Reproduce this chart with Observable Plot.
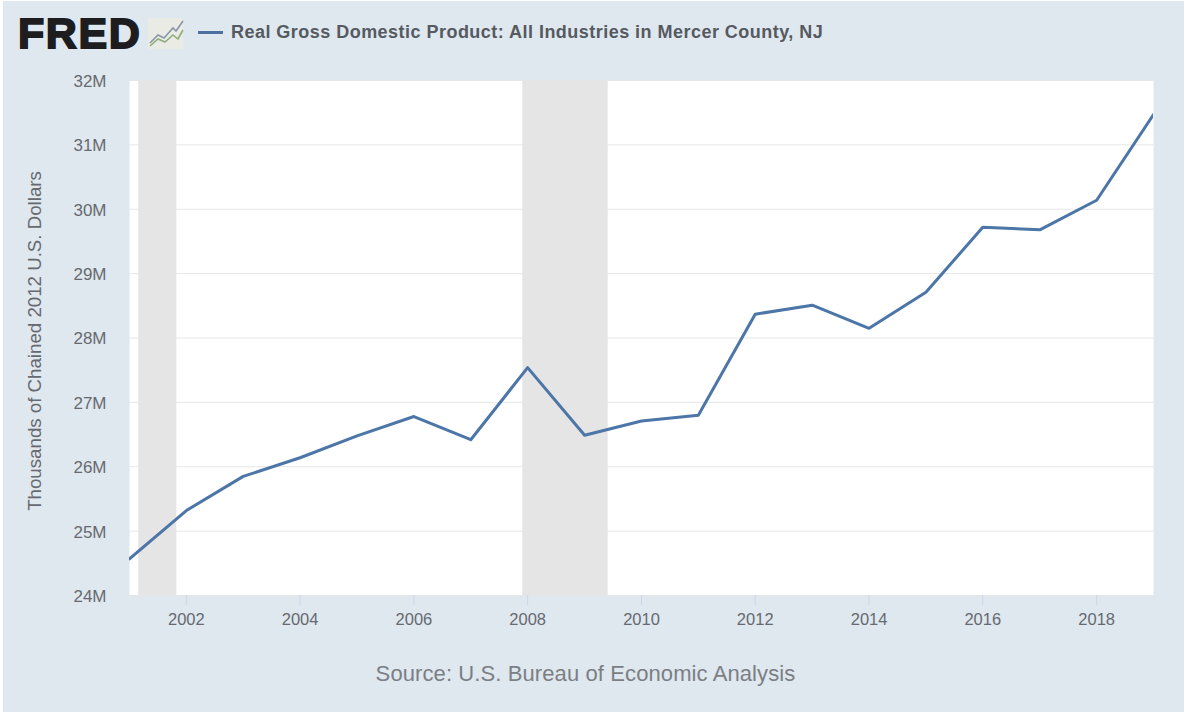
<!DOCTYPE html>
<html><head><meta charset="utf-8">
<script src="https://cdn.jsdelivr.net/npm/d3@7"></script>
<script src="https://cdn.jsdelivr.net/npm/@observablehq/plot@0.6"></script>
<style>
html,body{margin:0;padding:0;background:#fff;overflow:hidden}
#page{position:absolute;left:3px;top:1px;width:1181px;height:711px;background:#dfe7ef;font-family:"Liberation Sans",Arial,sans-serif}
#head{position:absolute;left:0;top:0;width:1181px;height:65px}
#logo{position:absolute;left:15px;top:7px;font:900 43px/50px "Liberation Sans",Arial,sans-serif;letter-spacing:1.6px;color:#1d1d1f;-webkit-text-stroke:1.8px #1d1d1f}
#spark{position:absolute;left:145px;top:17px}
#key{position:absolute;left:195px;top:30px;width:25px;height:3px;background:#4c70a0}
#title{position:absolute;left:228px;top:20px;font:bold 18px/22px "Liberation Sans",Arial,sans-serif;letter-spacing:.47px;color:#555a60;white-space:nowrap}
#chart{position:absolute;left:-3px;top:65px}
#source{position:absolute;left:0;width:1165px;top:660px;text-align:center;font:22px/26px "Liberation Sans",Arial,sans-serif;letter-spacing:.1px;color:#7b7f84}
</style></head><body>
<div id="page">
<div id="head">
<div id="logo">FRED</div>
<svg id="spark" width="36" height="32" viewBox="0 0 36 32"><rect x="0" y="0" width="35" height="31" rx="2" fill="#e9ebe4"/><path d="M2 25L10 17L16 20L25 10L28 13L35 3" fill="none" stroke="#8a96a8" stroke-width="1.6"/><path d="M2 28L10 21L17 24L25 17L30 21L35 12" fill="none" stroke="#8fae7c" stroke-width="1.6"/></svg>
<div id="key"></div>
<div id="title">Real Gross Domestic Product: All Industries in Mercer County, NJ</div>
</div>
<div id="chart"></div>
<div id="source">Source: U.S. Bureau of Economic Analysis</div>
</div>
<script>
const years = [2001,2002,2003,2004,2005,2006,2007,2008,2009,2010,2011,2012,2013,2014,2015,2016,2017,2018,2019];
const gdpMillions = [24.57,25.32,25.85,26.14,26.48,26.78,26.42,27.54,26.49,26.71,26.80,28.37,28.51,28.15,28.71,29.72,29.68,30.14,31.47];
const recessionStart = ["2001-03-01","2007-12-01"];
const recessionEnd = ["2001-11-01","2009-06-01"];
const yTicks = [24,25,26,27,28,29,30,31,32];
const xTickYears = [2002,2004,2006,2008,2010,2012,2014,2016,2018];
const yLabel = ["Thousands of Chained 2012 U.S. Dollars"];
const yearDate = y => new Date(Date.UTC(y,0,1));
const series = years.map((y,i)=>({date:yearDate(y),value:gdpMillions[i]}));
const recessions = recessionStart.map((s,i)=>({x1:new Date(s+"T00:00:00Z"),x2:new Date(recessionEnd[i]+"T00:00:00Z")}));

const plot = Plot.plot({
  width:1184,height:575,
  marginLeft:129,marginRight:31,marginTop:14,marginBottom:46,
  style:{background:"transparent",fontFamily:"'Liberation Sans',Arial,sans-serif",fontSize:"16px",color:"#666a70"},
  x:{type:"utc",domain:[yearDate(2001),yearDate(2019)],label:null},
  y:{domain:[24,32],label:null},
  marks:[
    Plot.frame({fill:"#fff",stroke:null}),
    Plot.rectY(recessions,{x1:"x1",x2:"x2",y1:24,y2:32,fill:"#e5e5e5"}),
    Plot.ruleY(yTicks,{stroke:"#e6e6e6",strokeWidth:1}),
    Plot.axisX({ticks:xTickYears.map(yearDate),tickFormat:d=>String(d.getUTCFullYear()),tickSize:10,tickPadding:8,stroke:"#ccd6eb",fill:"#666a70",fontSize:16.5,label:null}),
    Plot.axisY({ticks:yTicks,tickFormat:d=>d+"M",tickSize:0,tickPadding:23,fill:"#666a70",fontSize:17,label:null,dy:1}),
    Plot.text(yLabel,{frameAnchor:"left",textAnchor:"middle",rotate:-90,dx:-94,dy:3,fontSize:18.7,fill:"#666a70"}),
    Plot.line(series,{x:"date",y:"value",stroke:"#4c75a8",strokeWidth:3,clip:true})
  ]
});
document.getElementById("chart").appendChild(plot);
</script>
</body></html>
